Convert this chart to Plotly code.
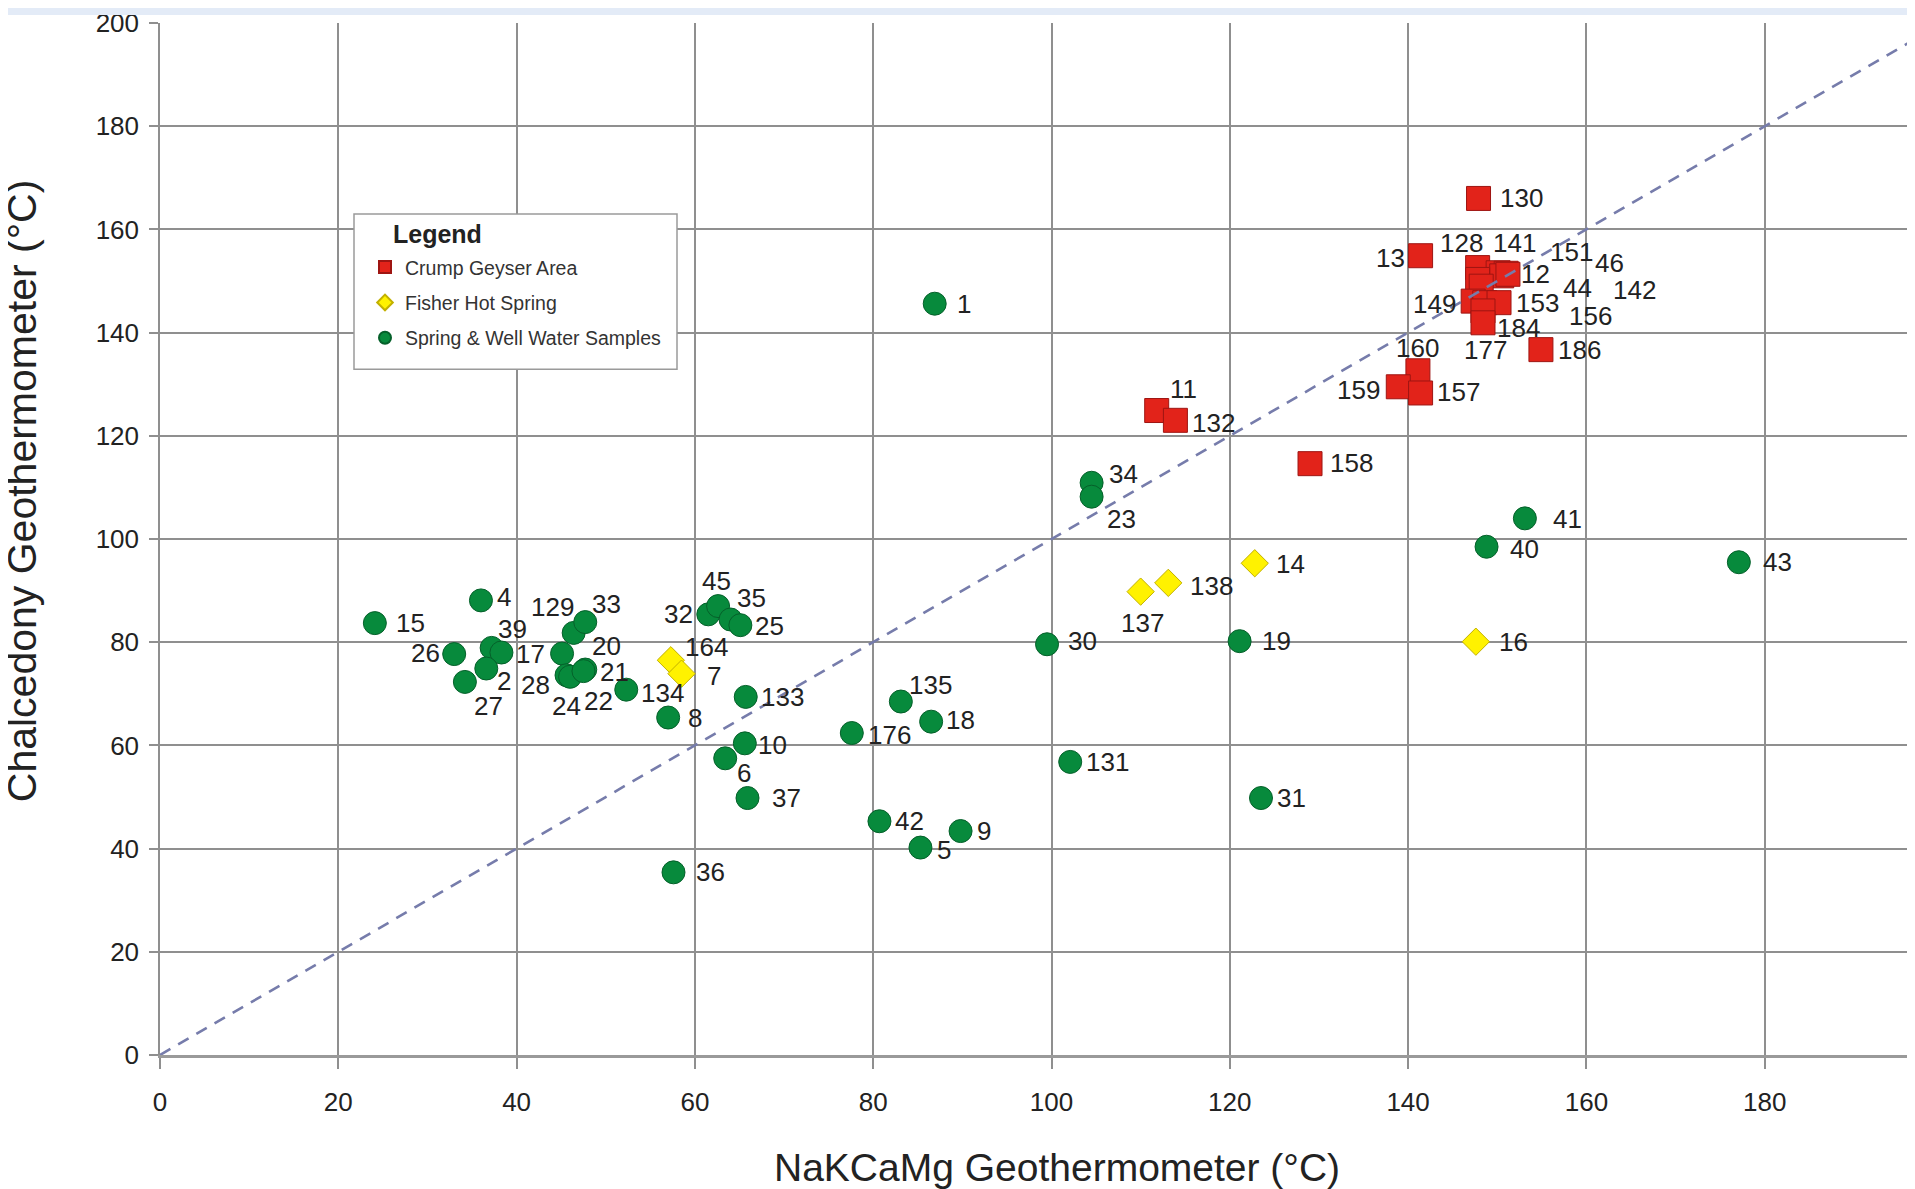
import plotly.graph_objects as go

# ---------------- data ----------------
# Crump Geyser Area
crump_ids = [130, 13, 128, 141, 151, 46, 12, 142, 44, 149, 156, 153, 177, 184, 186, 160, 159, 157, 11, 132, 158]
crump_nak = [147.9, 141.4, 147.8, 150.1, 151.0, 150.5, 151.2, 147.8, 148.2, 147.3, 148.6, 150.2, 148.4, 148.4,
             154.9, 141.1, 138.9, 141.4, 111.8, 113.9, 129.0]
crump_chal = [166.0, 154.9, 152.6, 151.6, 151.5, 151.0, 151.3, 150.3, 149.0, 146.1, 145.8, 145.8, 144.2, 141.9,
              136.7, 132.6, 129.5, 128.3, 124.9, 123.0, 114.6]

# Fisher Hot Spring
fisher_ids = [164, 7, 137, 138, 14, 16]
fisher_nak = [57.3, 58.5, 110.0, 113.1, 122.8, 147.6]
fisher_chal = [76.5, 73.9, 89.8, 91.5, 95.3, 80.1]

# Spring & Well Water Samples
spring_ids = [1, 15, 4, 26, 39, 17, 2, 27, 129, 33, 20, 21, 28, 24, 22, 134, 8, 32, 45, 35, 25,
              133, 10, 6, 37, 36, 176, 135, 18, 42, 5, 9, 30, 19, 34, 23, 131, 31, 40, 41, 43]
spring_nak = [86.9, 24.1, 36.0, 33.0, 37.2, 38.3, 36.6, 34.2, 46.4, 47.7, 45.1, 47.7, 45.6, 46.0, 47.5,
              52.3, 57.0, 61.5, 62.6, 64.0, 65.1, 65.7, 65.6, 63.4, 65.9, 57.6, 77.6, 83.1, 86.5, 80.7,
              85.3, 89.8, 99.5, 121.1, 104.5, 104.5, 102.1, 123.5, 148.8, 153.1, 177.1]
spring_chal = [145.6, 83.7, 88.1, 77.7, 78.9, 78.0, 74.9, 72.3, 81.8, 83.9, 77.8, 74.7, 73.6, 73.3, 74.4,
               70.8, 65.4, 85.4, 87.0, 84.4, 83.3, 69.4, 60.4, 57.5, 49.8, 35.4, 62.4, 68.5, 64.6, 45.3,
               40.2, 43.4, 79.6, 80.2, 110.9, 108.2, 56.8, 49.8, 98.5, 104.0, 95.5]

# 1:1 reference line
ref_line = [0, 200]

tick_vals = [0, 20, 40, 60, 80, 100, 120, 140, 160, 180, 200]

# label offsets in screen pixels (label centre relative to point), +dy = up
crump_lbl_dx = [43, -30, -16, 16, 65, 108, 28, 157, 96, -39, 106, 38, 3, 36, 39, 0, -40, 38, 27, 38, 41]
crump_lbl_dy = [0, -2, 25, 30, 21, 13, 0, -11, -2, -3, -13, 0, -39, -5, 0, 23, -3, 1, 22, -3, 1]
fisher_lbl_dx = [36, 32, 2, 43, 36, 38]
fisher_lbl_dy = [13, -2, -31, -3, -1, 0]
spring_lbl_dx = [29, 36, 23, -29, 21, 29, 18, 24, -21, 21, 44, 29, -31, -4, 15, 36, 27, -30, -2, 21, 29,
                 37, 28, 19, 39, 37, 38, 30, 29, 30, 24, 23, 35, 37, 32, 30, 37, 30, 38, 43, 39]
spring_lbl_dy = [0, 0, 3, 1, 19, -1, -12, -24, 26, 18, 8, -2, -10, -29, -30, -3, 0, 0, 25, 22, -1,
                 0, -2, -15, 0, 0, -2, 17, 2, 0, -2, 0, 3, 0, 9, -22, 0, 0, -2, -1, 0]

# ---------------- figure ----------------
FONT = "Liberation Sans, Arial, Helvetica, sans-serif"
W, H = 1907, 1181          # page body adds an 8px margin
ML, MR, MT, MB = 152, 0, 10, 134
PW, PH = W - ML - MR, H - MT - MB
PLOT_BOTTOM = H - MB


def px(xf):   # figure px -> paper x
    return (xf - ML) / PW


def py(yf):   # figure px -> paper y
    return (PLOT_BOTTOM - yf) / PH


fig = go.Figure()

fig.add_trace(go.Scatter(
    x=crump_nak, y=crump_chal, mode="markers", name="Crump Geyser Area",
    marker=dict(symbol="square", size=24, color="#e2231a", line=dict(color="#9e1512", width=1)),
    legendgroup="a"))
fig.add_trace(go.Scatter(
    x=fisher_nak, y=fisher_chal, mode="markers", name="Fisher Hot Spring",
    marker=dict(symbol="diamond", size=21, color="#fff200", line=dict(color="#c2b000", width=1)),
    legendgroup="b"))
fig.add_trace(go.Scatter(
    x=spring_nak, y=spring_chal, mode="markers", name="Spring &amp; Well Water Samples",
    marker=dict(symbol="circle", size=23, color="#078a3c", line=dict(color="#05602a", width=1)),
    legendgroup="c"))
fig.add_trace(go.Scatter(
    x=ref_line, y=ref_line, mode="lines", showlegend=False, hoverinfo="skip",
    line=dict(color="#767cab", width=2.6, dash="12px,9px")))

annotations = []
for ids, xs, ys, dxs, dys in [
    (crump_ids, crump_nak, crump_chal, crump_lbl_dx, crump_lbl_dy),
    (fisher_ids, fisher_nak, fisher_chal, fisher_lbl_dx, fisher_lbl_dy),
    (spring_ids, spring_nak, spring_chal, spring_lbl_dx, spring_lbl_dy),
]:
    for i, x, y, dx, dy in zip(ids, xs, ys, dxs, dys):
        annotations.append(dict(
            x=x, y=y, xref="x", yref="y", text=str(i), showarrow=False,
            xanchor="center", yanchor="middle", xshift=dx, yshift=dy,
            font=dict(family=FONT, size=26, color="#222222")))

# axis titles
annotations.append(dict(
    text="NaKCaMg Geothermometer (°C)", xref="paper", yref="paper",
    x=px(1048.5), y=py(1160), xanchor="center", yanchor="middle",
    showarrow=False, font=dict(family=FONT, size=39, color="#222222")))
annotations.append(dict(
    text="Chalcedony Geothermometer (°C)", xref="paper", yref="paper", textangle=-90,
    x=px(14), y=py(480.5), xanchor="center", yanchor="middle",
    showarrow=False, font=dict(family=FONT, size=41, color="#222222")))
# legend heading
annotations.append(dict(
    text="<b>Legend</b>", xref="paper", yref="paper",
    x=px(383), y=py(222), xanchor="left", yanchor="middle",
    showarrow=False, font=dict(family=FONT, size=25, color="#222222")))

grid_col = "#8f8f8f"
fig.update_layout(
    width=W, height=H,
    margin=dict(l=ML, r=MR, t=MT, b=MB, pad=0),
    paper_bgcolor="white", plot_bgcolor="white",
    font=dict(family=FONT, color="#222222"),
    xaxis=dict(range=[0, PW / 8.915], tickvals=tick_vals, showgrid=True, gridcolor=grid_col, gridwidth=1.5,
               zeroline=False, showline=True, linecolor="#9a9a9a", linewidth=2.5,
               ticks="outside", ticklen=11, tickcolor=grid_col, tickwidth=1.5,
               ticklabeloverflow="allow",
               ticklabelstandoff=11, tickfont=dict(family=FONT, size=26, color="#222222")),
    yaxis=dict(range=[0, 200], tickvals=tick_vals, showgrid=True, gridcolor=grid_col, gridwidth=1.5,
               zeroline=False, showline=True, linecolor=grid_col, linewidth=1.5,
               ticks="outside", ticklen=9, tickcolor=grid_col, tickwidth=1.5,
               ticklabeloverflow="allow",
               ticklabelstandoff=5, tickfont=dict(family=FONT, size=26, color="#222222")),
    legend=dict(
        x=px(357), y=py(236), xanchor="left", yanchor="top",
        bgcolor="rgba(0,0,0,0)", borderwidth=0,
        font=dict(family=FONT, size=19.5, color="#333333"),
        itemsizing="constant", traceorder="grouped", tracegroupgap=7),
    annotations=annotations,
    shapes=[
        dict(type="rect", xref="paper", yref="paper",
             x0=-ML / PW, x1=1, y0=1 + (MT - 2) / PH, y1=1 + (MT + 8) / PH,
             fillcolor="#e3ebf7", line=dict(width=0), layer="above"),
        dict(type="rect", xref="paper", yref="paper",
             x0=px(346), x1=px(669), y0=py(358), y1=py(202),
             fillcolor="white", line=dict(color="#9a9a9a", width=1.5), layer="above"),
    ],
    showlegend=True,
)

fig.write_html("out.html")
